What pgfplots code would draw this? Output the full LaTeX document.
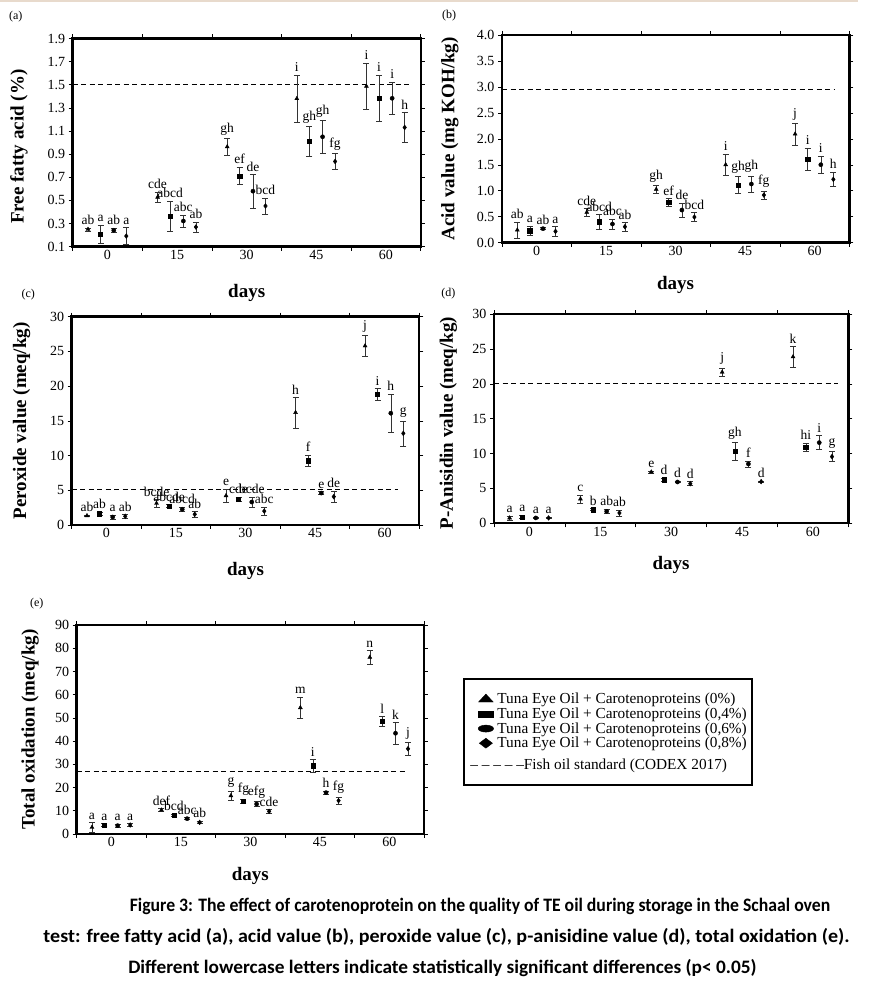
\documentclass[border=0pt]{standalone}
\usepackage{pgfplots}
\pgfplotsset{compat=1.18}
\usepackage{pgfplotstable}
\usepackage{fontspec}
\setmainfont{Liberation Serif}
\newfontfamily\capfont{Carlito}
\newcommand\tickfont{\fontsize{14}{15}\selectfont}
\newcommand\labfont{\fontsize{13.5}{14}\selectfont}
\newcommand\labelfont{\fontsize{19}{22}\selectfont\bfseries}
\newcommand\panfont{\fontsize{12}{13}\selectfont}
\newcommand\legfont{\fontsize{15.3}{17}\selectfont}
\newcommand\cfont{\capfont\bfseries\fontsize{19}{21}\selectfont}

% columns: c = day index (0..4 -> 0,15,30,45,60 days); a=0%, b=0.4%, c=0.6%, d=0.8%
\pgfplotstableread{
c ya ea la yb eb lb yc ec lc yd ed ld
0 0.250 0.013 ab 0.207 0.080 a 0.242 0.017 ab 0.192 0.075 a
1 0.528 0.045 cde 0.366 0.130 abcd 0.322 0.050 abc 0.270 0.045 ab
2 0.964 0.070 gh 0.712 0.075 ef 0.580 0.145 de 0.452 0.070 bcd
3 1.380 0.205 i 1.010 0.130 gh 1.050 0.140 gh 0.837 0.070 fg
4 1.487 0.200 i 1.383 0.200 i 1.383 0.140 i 1.131 0.130 h
}\tabA
\pgfplotstableread{
c ya ea la yb eb lb yc ec lc yd ed ld
0 0.244 0.150 ab 0.231 0.085 a 0.270 0.020 ab 0.218 0.090 a
1 0.584 0.077 cde 0.404 0.140 abcd 0.360 0.096 abc 0.308 0.083 ab
2 1.027 0.080 gh 0.777 0.075 ef 0.629 0.140 de 0.494 0.090 bcd
3 1.502 0.205 i 1.110 0.167 gh 1.130 0.157 gh 0.918 0.080 fg
4 2.093 0.210 j 1.605 0.218 i 1.502 0.167 i 1.220 0.138 h
}\tabB
\pgfplotstableread{
c ya ea la yb eb lb yc ec lc yd ed ld
0 1.34 0.10 ab 1.63 0.20 ab 1.15 0.30 a 1.25 0.25 ab
1 3.12 0.55 bcde 2.74 0.20 abcde 2.26 0.30 abcd 1.54 0.38 ab
2 4.22 0.96 e 3.70 0.30 cde 3.31 0.70 bcde 2.00 0.60 abc
3 16.2 2.20 h 9.26 0.80 f 4.60 0.20 e 4.08 0.80 de
4 25.8 1.50 j 18.8 0.90 i 16.1 2.75 h 13.2 1.80 g
}\tabC
\pgfplotstableread{
c ya ea la yb eb lb yc ec lc yd ed ld
0 0.77 0.30 a 0.91 0.25 a 0.77 0.10 a 0.77 0.10 a
1 3.49 0.58 c 1.96 0.15 b 1.72 0.30 ab 1.48 0.43 ab
2 7.37 0.15 e 6.27 0.20 d 5.93 0.10 d 5.69 0.30 d
3 21.7 0.60 j 10.34 1.30 gh 8.52 0.43 f 5.98 0.10 d
4 23.9 1.50 k 10.96 0.60 hi 11.58 1.00 i 9.57 0.70 g
}\tabD
\pgfplotstableread{
c ya ea la yb eb lb yc ec lc yd ed ld
0 2.87 2.15 a 3.88 0.60 a 3.59 0.60 a 3.88 0.70 a
1 10.3 0.70 def 8.04 0.50 bcd 6.60 0.40 abc 5.00 0.50 ab
2 16.5 2.00 g 14.07 1.00 fg 12.9 1.10 efg 9.76 0.70 cde
3 54.4 4.60 m 29.4 2.70 i 17.8 0.70 h 14.35 1.65 fg
4 76.1 2.90 n 48.6 2.00 l 43.4 4.70 k 36.7 2.65 j
}\tabE

\newcommand{\pts}[6]{%
\addplot[forget plot, only marks, black, #6, error bars/.cd, y dir=both, y explicit,
  error bar style={line width=0.5pt, black!80},
  error mark options={rotate=90, mark size=3pt, line width=0.5pt, black!80}]
  table[x expr=\thisrow{c}#2, y=#3, y error=#4] {#1};
\addplot[forget plot, draw=none, nodes near coords, point meta=explicit symbolic,
  nodes near coords style={anchor=south, font=\labfont, inner sep=1pt, yshift=2pt, black}]
  table[x expr=\thisrow{c}#2, y expr=\thisrow{#3}+\thisrow{#4}, meta=#5] {#1};
}
\newcommand{\fourseries}[1]{%
\pts{#1}{-0.28}{ya}{ea}{la}{mark=triangle*, mark size=2.3pt}%
\pts{#1}{-0.10}{yb}{eb}{lb}{mark=square*, mark size=2.1pt}%
\pts{#1}{+0.09}{yc}{ec}{lc}{mark=*, mark size=2.1pt}%
\pts{#1}{+0.27}{yd}{ed}{ld}{mark=diamond*, mark size=2.4pt}%
}

\pgfplotsset{
  panel/.style={
    scale only axis, clip=false,
    anchor=south west,
    xmin=-0.5, xmax=4.5,
    xtick={-0.5,0.5,...,4.5}, xticklabels={,,,,,,},
    extra x ticks={0,1,2,3,4}, extra x tick labels={0,15,30,45,60},
    extra x tick style={major tick length=0pt, tick label style={font=\tickfont}},
    tick align=outside, major tick length=4pt,
    tick style={line width=0.6pt, black},
    axis line style={line width=2.4pt},
    tick label style={font=\tickfont},
    /pgf/number format/assume math mode=true,
    every axis x label/.style={anchor=center, font=\labelfont},
    every axis y label/.style={rotate=90, anchor=center, font=\labelfont},
    xlabel={days},
  },
  dashline/.style={black, line width=1pt, dash pattern=on 5pt off 3.5pt, forget plot},
}

\begin{document}
\begin{tikzpicture}[x=1pt,y=1pt]
\path[use as bounding box, fill=white] (0,0) rectangle (876,1005);
\draw[line width=1.5pt, color={rgb,255:red,232;green,218;blue,204}] (0,1004) -- (858,1004);

% (a) free fatty acid
\begin{axis}[panel, at={(72.7pt,758.3pt)}, width=348pt, height=208.2pt,
  ymin=0.1, ymax=1.9, ytick={0.1,0.3,...,1.9},
  yticklabel style={/pgf/number format/.cd, fixed, fixed zerofill, precision=1},
  ylabel={Free fatty acid (\%)},
  ylabel style={at={(axis description cs:-0.154,0.48)}},
  xlabel style={at={(axis description cs:0.5,-0.222)}}]
\addplot[dashline] coordinates {(-0.5,1.5) (4.375,1.5)};
\fourseries{\tabA}
\end{axis}

% (b) acid value
\begin{axis}[panel, at={(502pt,762.3pt)}, width=347.3pt, height=207.7pt,
  ymin=0, ymax=4, ytick={0,0.5,...,4},
  yticklabel style={/pgf/number format/.cd, fixed, fixed zerofill, precision=1},
  ylabel={Acid value (mg KOH/kg)},
  ylabel style={at={(axis description cs:-0.15,0.5)}},
  xlabel style={at={(axis description cs:0.5,-0.204)}}]
\addplot[dashline] coordinates {(-0.5,2.95) (4.294,2.95)};
\fourseries{\tabB}
\end{axis}

% (c) peroxide value
\begin{axis}[panel, at={(71.7pt,480pt)}, width=347.6pt, height=208.3pt,
  ymin=0, ymax=30, ytick={0,5,...,30},
  ylabel={Peroxide value (meq/kg)},
  ylabel style={at={(axis description cs:-0.144,0.5)}},
  xlabel style={at={(axis description cs:0.5,-0.221)}}]
\addplot[dashline] coordinates {(-0.5,5.1) (4.195,5.1)};
\fourseries{\tabC}
\end{axis}

% (d) p-anisidine value
\begin{axis}[panel, at={(494pt,481.7pt)}, width=354.3pt, height=209pt,
  ymin=0, ymax=30, ytick={0,5,...,30},
  ylabel={P-Anisidin value (meq/kg)},
  ylabel style={at={(axis description cs:-0.129,0.48)}},
  xlabel style={at={(axis description cs:0.5,-0.2)}}]
\addplot[dashline] coordinates {(-0.5,20) (4.355,20)};
\fourseries{\tabD}
\end{axis}

% (e) total oxidation
\begin{axis}[panel, at={(76.7pt,171pt)}, width=347.3pt, height=209pt,
  ymin=0, ymax=90, ytick={0,10,...,90},
  ylabel={Total oxidation (meq/kg)},
  ylabel style={at={(axis description cs:-0.134,0.5)}},
  xlabel style={at={(axis description cs:0.5,-0.2)}},
  legend image code/.code={\path (-19pt,0pt) (9.3pt,0pt); \draw[#1] plot coordinates {(0pt,0pt)};},
  legend style={at={(axis description cs:1.1114,0.745)}, anchor=north west,
    draw=black, line width=2pt, inner xsep=3pt, inner ysep=12pt, row sep=-1.5pt,
    font=\legfont, cells={anchor=west}, nodes={inner sep=2pt}}]
\addplot[dashline] coordinates {(-0.5,26.8) (4.255,26.8)};
\fourseries{\tabE}
\addlegendimage{only marks, black, line width=0.4pt, mark=triangle*, mark size=5.3pt, mark options={xscale=1.6}}
\addlegendentry{Tuna Eye Oil + Carotenoproteins (0\%)}
\addlegendimage{only marks, black, line width=0.4pt, mark=square*, mark size=3pt, mark options={xscale=2.5}}
\addlegendentry{Tuna Eye Oil + Carotenoproteins (0,4\%)}
\addlegendimage{only marks, black, line width=0.4pt, mark=*, mark size=3.5pt, mark options={xscale=2.2}}
\addlegendentry{Tuna Eye Oil + Carotenoproteins (0,6\%)}
\addlegendimage{only marks, black, line width=0.4pt, mark=diamond*, mark size=5pt, mark options={xscale=1.75}}
\addlegendentry{Tuna Eye Oil + Carotenoproteins (0,8\%)}
\addlegendimage{empty legend}
\addlegendentry{\hspace*{-27pt}\rule{0pt}{17.9pt}-- -- -- -- --Fish oil standard (CODEX 2017)}
\end{axis}

% panel letters
\node[font=\panfont] at (15.8,988) {(a)};
\node[font=\panfont] at (449,989.5) {(b)};
\node[font=\panfont] at (28.3,710) {(c)};
\node[font=\panfont] at (448.3,711) {(d)};
\node[font=\panfont] at (36.7,401) {(e)};

% caption
\node[font=\cfont, anchor=center] at (480,99) {\scalebox{0.932}[1]{Figure 3: The effect of carotenoprotein on the quality of TE oil during storage in the Schaal oven}};
\node[font=\cfont, anchor=center] at (446.5,68) {\scalebox{1.055}[1]{test: free fatty acid (a), acid value (b), peroxide value (c), p-anisidine value (d), total oxidation (e).}};
\node[font=\cfont, anchor=center] at (442.5,37) {\scalebox{1.018}[1]{Different lowercase letters indicate statistically significant differences (p< 0.05)}};
\end{tikzpicture}
\end{document}
